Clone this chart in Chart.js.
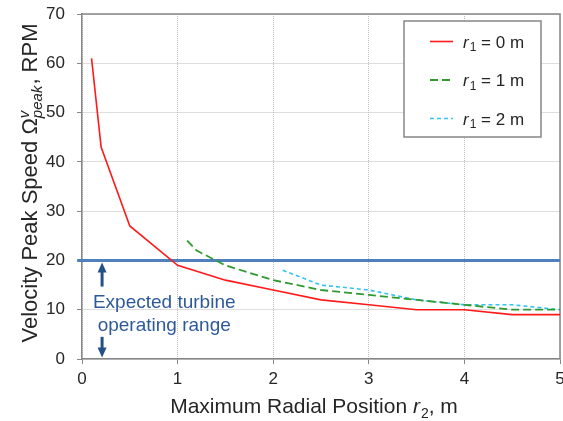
<!DOCTYPE html>
<html>
<head>
<meta charset="utf-8">
<script src="https://cdn.jsdelivr.net/npm/chart.js@4"></script>
<style>
  body { margin: 0; background: #fff; }
  #chart { display: block; }
</style>
</head>
<body>
<canvas id="chart" width="563" height="421"></canvas>
<script>
// data
const xTicks = [0, 1, 2, 3, 4, 5];
const yTicks = [0, 10, 20, 30, 40, 50, 60, 70];

const r0x = [0.1, 0.2, 0.5, 1, 1.5, 2, 2.5, 3, 3.5, 4, 4.5, 5];
const r0y = [61, 43, 27, 19, 16, 14, 12, 11, 10, 10, 9, 9];

const r1x = [1.1, 1.2, 1.5, 2, 2.5, 3, 3.5, 4, 4.5, 5];
const r1y = [24, 22, 19, 16, 14, 13, 12, 11, 10, 10];

const r2x = [2.1, 2.5, 3, 3.5, 4, 4.5, 5];
const r2y = [18, 15, 14, 12, 11, 11, 10];

// expected operating range limit
const limitX = [-0.05, 5];
const limitY = [20, 20];

const legendNums = ['0', '1', '2'];

const FONT = "'Liberation Sans', Arial, sans-serif";
const TXT = '#262626';
const AXIS = '#868686';

function pts(xs, ys) {
  return xs.map((x, i) => ({ x: x, y: ys[i] }));
}

const seriesStyle = [
  { color: '#ff1a1a', dash: [], width: 1.6 },
  { color: '#2f9a2f', dash: [8, 4], width: 1.8 },
  { color: '#33c3f0', dash: [4, 3], width: 1.6 }
];

// text with italic / sub / sup parts, laid out left to right from x
function drawRich(ctx, parts, x, y, size) {
  let cx = x;
  parts.forEach(p => {
    if (p.stack) {
      // superscript and subscript sharing the same start
      let w = 0;
      p.stack.forEach(s => {
        ctx.font = 'italic ' + Math.round(size * 0.68) + 'px ' + FONT;
        ctx.fillText(s.t, cx, y + s.dy * size);
        w = Math.max(w, ctx.measureText(s.t).width);
      });
      cx += w + 1;
      return;
    }
    const sz = p.small ? Math.round(size * 0.68) : size;
    ctx.font = (p.italic ? 'italic ' : '') + sz + 'px ' + FONT;
    ctx.fillText(p.t, cx, y + (p.dy || 0) * size);
    cx += ctx.measureText(p.t).width + (p.italic && !p.small ? 1 : 0);
  });
  return cx - x;
}

function richWidth(ctx, parts, size) {
  ctx.save();
  ctx.globalAlpha = 0;
  const w = drawRich(ctx, parts, 0, -1000, size);
  ctx.restore();
  return w;
}

function arrow(ctx, x, yTail, yTip) {
  const dir = yTip < yTail ? -1 : 1;
  ctx.beginPath();
  ctx.moveTo(x, yTail);
  ctx.lineTo(x, yTip - dir * 8);
  ctx.stroke();
  ctx.beginPath();
  ctx.moveTo(x, yTip);
  ctx.lineTo(x - 4.5, yTip - dir * 10);
  ctx.lineTo(x + 4.5, yTip - dir * 10);
  ctx.closePath();
  ctx.fill();
}

const extras = {
  id: 'extras',
  beforeDatasetsDraw(chart) {
    const ctx = chart.ctx;
    const a = chart.chartArea;
    ctx.save();
    ctx.strokeStyle = AXIS;
    ctx.lineWidth = 1.5;
    ctx.beginPath();
    ctx.moveTo(a.left, a.top);
    ctx.lineTo(a.right, a.top);
    ctx.lineTo(a.right, a.bottom);
    ctx.stroke();
    ctx.restore();
  },
  afterDatasetsDraw(chart) {
    const ctx = chart.ctx;
    const xs = chart.scales.x, ys = chart.scales.y;
    ctx.save();

    // arrows for the operating range
    ctx.strokeStyle = '#23508a';
    ctx.fillStyle = '#23508a';
    ctx.lineWidth = 3;
    const ax = xs.getPixelForValue(0.21);
    arrow(ctx, ax, ys.getPixelForValue(14.7), ys.getPixelForValue(19.6));
    arrow(ctx, ax, ys.getPixelForValue(4.5), ys.getPixelForValue(0.3));

    // annotation
    ctx.fillStyle = '#2e5a9a';
    ctx.font = '19px ' + FONT;
    ctx.textAlign = 'center';
    ctx.textBaseline = 'middle';
    const tx = xs.getPixelForValue(0.86);
    ctx.fillText('Expected turbine', tx, ys.getPixelForValue(11.5));
    ctx.fillText('operating range', tx, ys.getPixelForValue(6.8));

    // legend box
    ctx.textAlign = 'left';
    ctx.textBaseline = 'alphabetic';
    ctx.fillStyle = '#fff';
    ctx.fillRect(404, 21, 137, 116);
    ctx.strokeStyle = AXIS;
    ctx.lineWidth = 1.5;
    ctx.strokeRect(404, 21, 137, 116);
    const rowY = [41.5, 80, 118.5];
    seriesStyle.forEach((s, i) => {
      ctx.strokeStyle = s.color;
      ctx.lineWidth = s.width;
      ctx.setLineDash(s.dash);
      ctx.beginPath();
      ctx.moveTo(430, rowY[i]);
      ctx.lineTo(453, rowY[i]);
      ctx.stroke();
      ctx.setLineDash([]);
      ctx.fillStyle = TXT;
      drawRich(ctx, [
        { t: 'r', italic: true },
        { t: '1', small: true, dy: 0.22 },
        { t: ' = ' + legendNums[i] + ' m' }
      ], 463, rowY[i] + 6, 17);
    });
    ctx.restore();
  },
  afterDraw(chart) {
    const ctx = chart.ctx;
    const a = chart.chartArea;
    ctx.save();
    ctx.fillStyle = TXT;
    ctx.textAlign = 'left';
    ctx.textBaseline = 'alphabetic';

    // x title
    const xParts = [
      { t: 'Maximum Radial Position ' },
      { t: 'r', italic: true },
      { t: '2', small: true, dy: 0.22 },
      { t: ', m' }
    ];
    const xw = richWidth(ctx, xParts, 21);
    drawRich(ctx, xParts, 314 - xw / 2, 413, 21);

    // y title, rotated
    const yParts = [
      { t: 'Velocity Peak Speed \u03A9' },
      { stack: [{ t: 'v', dy: -0.38 }, { t: 'peak', dy: 0.22 }] },
      { t: ', RPM' }
    ];
    const yw = richWidth(ctx, yParts, 22);
    ctx.translate(37, 183);
    ctx.rotate(-Math.PI / 2);
    drawRich(ctx, yParts, -yw / 2, 0, 22);
    ctx.restore();
  }
};

const ctx = document.getElementById('chart');

new Chart(ctx, {
  type: 'scatter',
  data: {
    datasets: [
      { label: 'r1 = 0 m', data: pts(r0x, r0y) },
      { label: 'r1 = 1 m', data: pts(r1x, r1y) },
      { label: 'r1 = 2 m', data: pts(r2x, r2y) }
    ].map((d, i) => Object.assign(d, {
      showLine: true,
      borderColor: seriesStyle[i].color,
      borderWidth: seriesStyle[i].width,
      borderDash: seriesStyle[i].dash,
      pointRadius: 0,
      fill: false,
      tension: 0
    })).concat([{
      label: 'limit',
      data: pts(limitX, limitY),
      showLine: true,
      borderColor: '#4f7fbd',
      borderWidth: 3,
      pointRadius: 0,
      clip: false
    }])
  },
  options: {
    responsive: false,
    animation: false,
    layout: { padding: { top: 14, right: 3, left: 0, bottom: 0 } },
    plugins: { legend: { display: false }, tooltip: { enabled: false } },
    scales: {
      x: {
        type: 'linear',
        min: xTicks[0],
        max: xTicks[xTicks.length - 1],
        afterBuildTicks: s => { s.ticks = xTicks.map(v => ({ value: v })); },
        afterFit: s => { s.height = 62; s.paddingLeft = 0; s.paddingRight = 0; },
        ticks: { color: TXT, font: { family: FONT, size: 17 }, padding: 5, maxRotation: 0 },
        grid: { color: '#bdbdbd', tickColor: AXIS, tickLength: 5, tickBorderDash: [] },
        border: { color: AXIS, width: 1.5, dash: [1, 1] }
      },
      y: {
        type: 'linear',
        min: yTicks[0],
        max: yTicks[yTicks.length - 1],
        afterBuildTicks: s => { s.ticks = yTicks.map(v => ({ value: v })); },
        afterFit: s => { s.width = 82; s.paddingTop = 0; s.paddingBottom = 0; },
        ticks: { color: TXT, font: { family: FONT, size: 17 }, padding: 12 },
        grid: { color: '#bdbdbd', tickColor: AXIS, tickLength: 5, tickBorderDash: [] },
        border: { color: AXIS, width: 1.5, dash: [1, 1] }
      }
    }
  },
  plugins: [extras]
});
</script>
</body>
</html>
